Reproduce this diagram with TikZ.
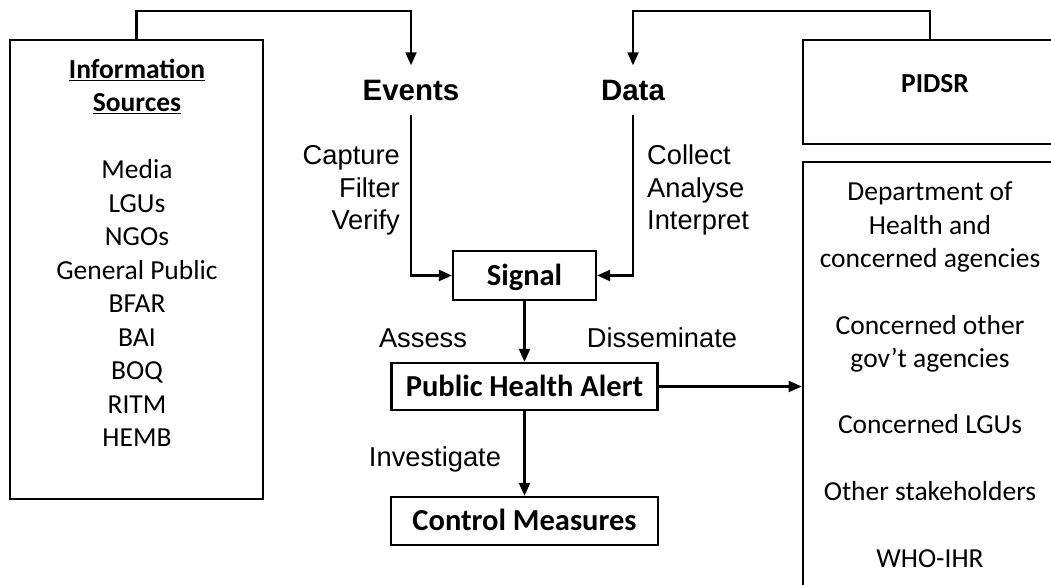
\documentclass[tikz,border=0pt]{standalone}
\usepackage{fontspec}
\setmainfont{Carlito}
\newfontfamily\arialfont{Liberation Sans}
\usetikzlibrary{positioning,arrows.meta}

\begin{document}
\begin{tikzpicture}[x=1pt, y=-1pt,
	box_node/.style={draw, line width=2.3pt, inner sep=0pt, font=\fontsize{30.5}{36}\selectfont\bfseries, text height=19.6pt, text depth=0pt},
	frame_node/.style={draw, line width=2.6pt, inner sep=0pt},
	list_text/.style={font=\fontsize{27.5}{33}\selectfont, inner sep=0pt, text height=17.7pt, text depth=0pt},
	cue_text/.style={font=\arialfont\fontsize{27.3}{33}\selectfont, inner sep=0pt, text height=19.5pt, text depth=0pt},
	head_text/.style={font=\arialfont\bfseries\fontsize{29.5}{35}\selectfont, inner xsep=0pt, inner ysep=14pt, text height=21pt, text depth=0pt},
	flow/.style={line width=2.2pt, -{Triangle[length=13pt,width=11pt]}}]

	\useasboundingbox (0,0) rectangle (1051,585);
	\clip (0,0) rectangle (1051,585);

	% frames
	\node[frame_node, minimum width=253pt, minimum height=459pt] (sources) at (136.5,269.5) {};
	\node[frame_node, minimum width=264pt, minimum height=104pt, font=\fontsize{27.5}{33}\selectfont\bfseries, text height=17.7pt, text depth=16pt] (pidsr) at (935,92) {PIDSR};
	\node[frame_node, minimum width=264pt, minimum height=476pt] (dept) at (935,400) {};

	% information sources
	\node[list_text] (info) at (137,70) {\bfseries\underline{Information}};
	\node[list_text] (srcs) at (137,103) {\bfseries\underline{Sources}};
	\foreach \src [count=\i from 0] in {Media, LGUs, NGOs, General Public, BFAR, BAI, BOQ, RITM, HEMB}
		\node[list_text] (src\i) at (137, 170+33.5*\i) {\src};

	% recipients
	\foreach \k/\txt in {0/Department of, 1/Health and, 2/concerned agencies, 4/Concerned other, 5/gov't agencies, 7/Concerned LGUs, 9/Other stakeholders, 11/WHO-IHR}
		\node[list_text] (dept\k) at (930, 192+33.3*\k) {\txt};

	% flow
	\node[head_text] (events) at (411,90) {Events};
	\node[head_text] (data) at (633,90) {Data};
	\node[box_node, minimum width=143pt, minimum height=49pt] (signal) at (524.5,275.5) {Signal};
	\node[box_node, minimum width=266pt, minimum height=47pt] (alert) at (524.5,386.5) {Public Health Alert};
	\node[box_node, minimum width=267pt, minimum height=48pt] (control) at (524.5,521) {Control Measures};

	\foreach \word [count=\i from 0] in {Capture, Filter, Verify}
		\node[cue_text, anchor=east] (ev\i) at (400, 155+32.5*\i) {\word};
	\foreach \word [count=\i from 0] in {Collect, Analyse, Interpret}
		\node[cue_text, anchor=west] (da\i) at (647, 155+32.5*\i) {\word};
	\node[cue_text] (assess) at (423,338) {Assess};
	\node[cue_text] (dissem) at (662,338) {Disseminate};
	\node[cue_text] (invest) at (435,457) {Investigate};

	\draw[flow] (sources.north) -- ++(0,-28) -| (events.north);
	\draw[flow] ([xshift=-5pt]pidsr.north) -- ++(0,-28) -| (data.north);
	\draw[flow] (events.south) |- (signal.west);
	\draw[flow] (data.south) |- (signal.east);
	\draw[flow] (signal.south) -- (alert.north);
	\draw[flow] (alert.south) -- (control.north);
	\draw[flow] (alert.east) -- (alert.east -| dept.west);
\end{tikzpicture}
\end{document}
